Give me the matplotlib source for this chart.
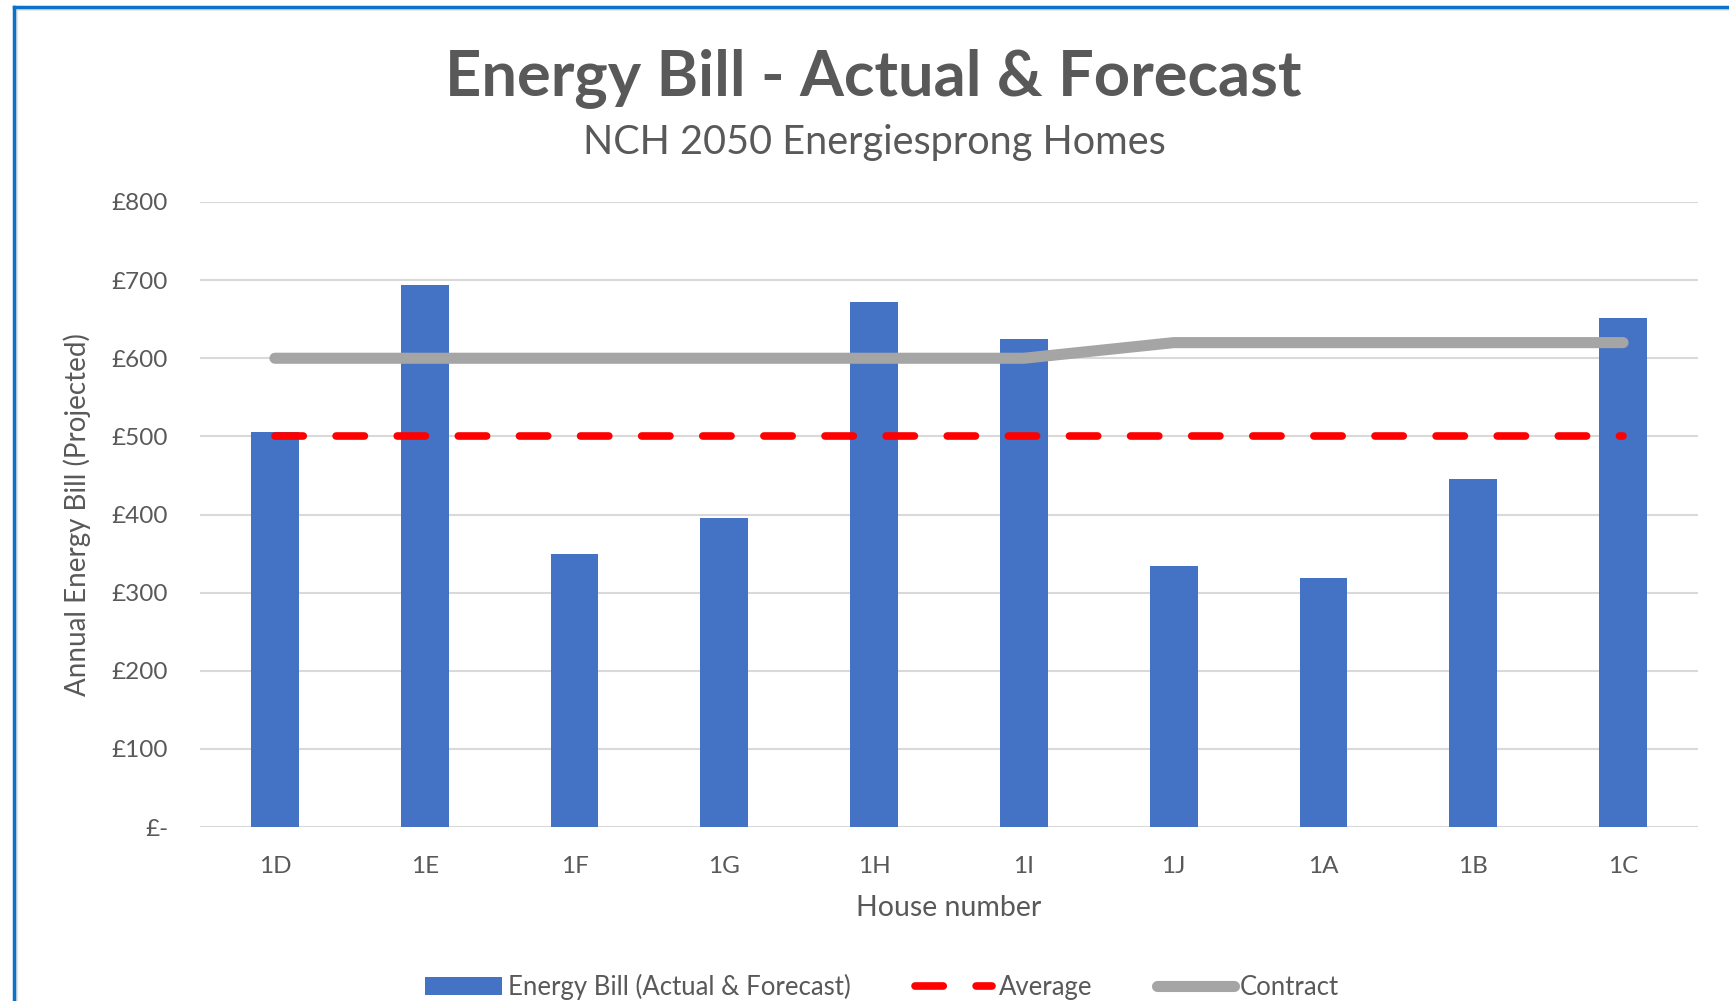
import numpy as np
import matplotlib
matplotlib.use("Agg")
import matplotlib.pyplot as plt
from matplotlib.lines import Line2D

plt.rcParams['font.family'] = ['Lato', 'DejaVu Sans']

# data
houses = ['1D', '1E', '1F', '1G', '1H', '1I', '1J', '1A', '1B', '1C']
energy_bill = [506, 694, 350, 395, 672, 625, 334, 319, 446, 652]
average = [500, 500, 500, 500, 500, 500, 500, 500, 500, 500]
contract = [600, 600, 600, 600, 600, 600, 620, 620, 620, 620]
y_ticks = [0, 100, 200, 300, 400, 500, 600, 700, 800]
y_tick_labels = ['£-', '£100', '£200', '£300', '£400', '£500', '£600', '£700', '£800']

text_col = '#595959'

fig = plt.figure(figsize=(17.29, 10.01), dpi=100)
ax = fig.add_axes([200 / 1729, 1 - 827 / 1001, 1498 / 1729, 625 / 1001])

x = np.arange(len(houses))
bars = ax.bar(x, energy_bill, width=0.32, color='#4472C4', zorder=2,
              label='Energy Bill (Actual & Forecast)')
avg_line, = ax.plot(x, average, color='#FF0000', lw=5.5, dashes=(3.7, 4.3),
                    dash_capstyle='round', solid_capstyle='round', zorder=3, label='Average')
con_line, = ax.plot(x, contract, color='#A5A5A5', lw=8, solid_capstyle='round',
                    solid_joinstyle='round', zorder=3, label='Contract')

ax.set_xlim(-0.5, len(houses) - 0.5)
ax.set_ylim(0, 800)
ax.set_yticks(y_ticks)
ax.set_yticklabels(y_tick_labels)
ax.set_xticks(x)
ax.set_xticklabels(houses)
ax.yaxis.grid(True, color='#D9D9D9', lw=1.5, zorder=0)
ax.set_axisbelow(True)
for s in ax.spines.values():
    s.set_visible(False)
ax.tick_params(axis='both', length=0, labelsize=17.5, colors=text_col)
ax.tick_params(axis='x', pad=21)
ax.tick_params(axis='y', pad=23)

ax.set_xlabel('House number', fontsize=20.5, color=text_col, va='center')
ax.xaxis.set_label_coords(0.5, -0.129)
ax.set_ylabel('Annual Energy Bill (Projected)', fontsize=20, color=text_col, va='center')
ax.yaxis.set_label_coords(-0.082, 0.5)

fig.text(873 / 1729, 1 - 78 / 1001, 'Energy Bill - Actual & Forecast', ha='center',
         va='center', fontsize=45.5, fontweight='bold', color=text_col)
fig.text(874 / 1729, 1 - 143 / 1001, 'NCH 2050 Energiesprong Homes', ha='center',
         va='center', fontsize=28.5, color=text_col)

fig.legend(handles=[bars, avg_line, con_line], loc='center',
           bbox_to_anchor=(882 / 1729, 1 - 987 / 1001), ncol=3,
           frameon=False, fontsize=18.5, handlelength=3.0, columnspacing=2.5,
           handletextpad=0.25, labelcolor=text_col)

# blue frame round the chart (only top and left edges are in view)
fig.add_artist(Line2D([16 / 1729, 16 / 1729], [0, 1 - 9 / 1001], transform=fig.transFigure,
                      color='#E3E3E3', lw=2))
fig.add_artist(Line2D([16 / 1729, 1], [1 - 9 / 1001, 1 - 9 / 1001], transform=fig.transFigure,
                      color='#E3E3E3', lw=2))
fig.add_artist(Line2D([14 / 1729, 14 / 1729], [0, 1 - 7 / 1001], transform=fig.transFigure,
                      color='#0A72C8', lw=2.5, solid_capstyle='projecting'))
fig.add_artist(Line2D([14 / 1729, 1], [1 - 7 / 1001, 1 - 7 / 1001], transform=fig.transFigure,
                      color='#0A72C8', lw=2.5, solid_capstyle='projecting'))

fig.savefig('out.png', dpi=100)
